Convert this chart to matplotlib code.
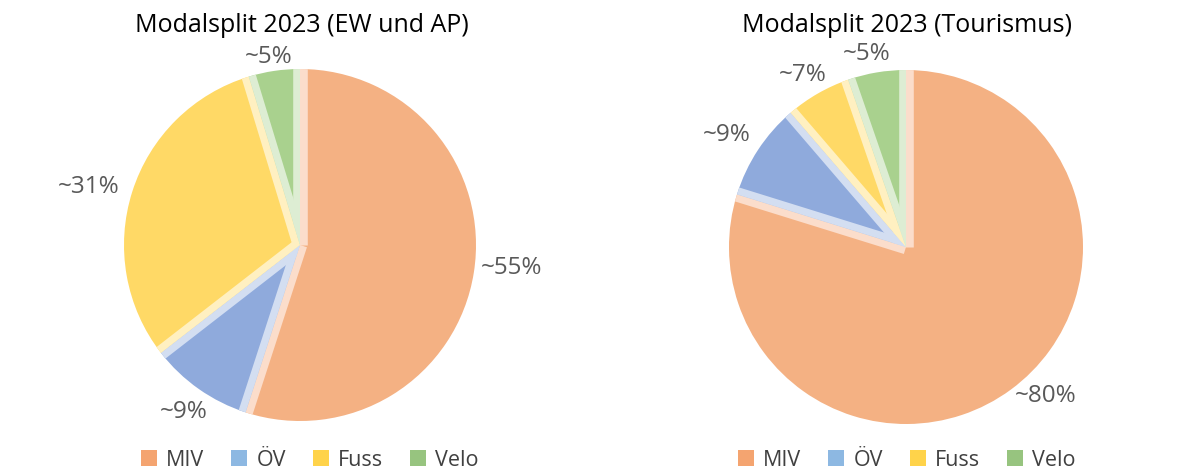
import numpy as np
import matplotlib
matplotlib.use("Agg")
import matplotlib.pyplot as plt
from matplotlib.patches import Patch

plt.rcParams["font.family"] = ["Open Sans", "DejaVu Sans"]

categories = ["MIV", "ÖV", "Fuss", "Velo"]
titles = ["Modalsplit 2023 (EW und AP)", "Modalsplit 2023 (Tourismus)"]
shares_ew = [55.0, 9.5, 30.8, 4.7]
shares_tour = [79.8, 8.9, 6.0, 5.3]
labels_ew = ["~55%", "~9%", "~31%", "~5%"]
labels_tour = ["~80%", "~9%", "~7%", "~5%"]

pie_colors = ["#F4B183", "#8FAADC", "#FFD966", "#A9D18E"]
edge_colors = ["#FBDDCB", "#D3DEF1", "#FFF0C1", "#DDEDD3"]
legend_colors = ["#F4A470", "#8DB8E2", "#FFD34A", "#97C47F"]
label_color = "#595959"

fig = plt.figure(figsize=(11.94, 4.77), dpi=100)
W, H = 1194, 477


def pie_axes(cx, cy, r):
    return fig.add_axes([(cx - r) / W, (H - cy - r) / H, 2 * r / W, 2 * r / H])


def draw_pie(ax, shares, labels, label_dist, label_shift):
    wedges, _ = ax.pie(shares, colors=pie_colors, startangle=90, counterclock=False,
                       radius=1.0, wedgeprops=dict(linewidth=0))
    # light inner band along the straight edges of every slice
    for w, light in zip(wedges, edge_colors):
        for ang in (w.theta1, w.theta2):
            a = np.deg2rad(ang)
            ln, = ax.plot([0, 1.05 * np.cos(a)], [0, 1.05 * np.sin(a)], color=light,
                          lw=10.5, solid_capstyle="butt", zorder=w.get_zorder() + 0.5)
            ln.set_clip_path(w)
    for w, lab, dist, shift in zip(wedges, labels, label_dist, label_shift):
        mid = np.deg2rad((w.theta1 + w.theta2) / 2 + shift)
        ax.text(dist * np.cos(mid), dist * np.sin(mid), lab, ha="center", va="center",
                fontsize=17.5, color=label_color)
    ax.set_xlim(-1, 1)
    ax.set_ylim(-1, 1)
    ax.set_aspect("equal")
    ax.axis("off")


ax1 = pie_axes(300, 246, 176)
draw_pie(ax1, shares_ew, labels_ew, [1.21, 1.15, 1.25, 1.09], [3, 0, 2, 1])
ax2 = pie_axes(906, 248, 177)
draw_pie(ax2, shares_tour, labels_tour, [1.15, 1.2, 1.14, 1.12], [7, 1, 1, 2])

fig.text(302 / W, 1 - 25 / H, titles[0], ha="center", va="center", fontsize=18, color="black")
fig.text(907 / W, 1 - 25 / H, titles[1], ha="center", va="center", fontsize=18, color="black")

handles = [Patch(facecolor=c, edgecolor="none") for c in legend_colors]
for x in (310, 907):
    fig.legend(handles, categories, loc="center", bbox_to_anchor=(x / W, 1 - 461 / H),
               ncol=4, frameon=False, fontsize=15.5, handlelength=0.72, handleheight=0.72,
               handletextpad=0.45, columnspacing=1.25, labelcolor="#404040")

fig.savefig("out.png", dpi=100)
